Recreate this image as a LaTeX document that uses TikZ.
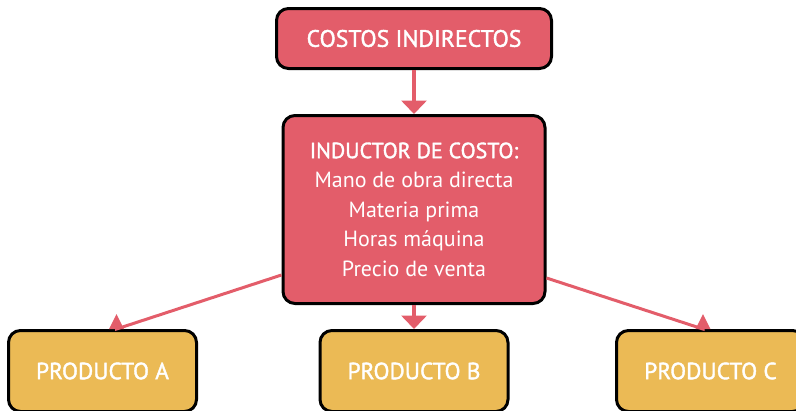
\documentclass[tikz,border=0pt]{standalone}
\usepackage{fontspec}
\setmainfont{PT Sans}[BoldFont=PT Sans, BoldFeatures={FakeBold=1.6}]
\usetikzlibrary{arrows.meta,calc}
\definecolor{costred}{HTML}{E35D6A}
\definecolor{prodyellow}{HTML}{EBBA55}
\tikzstyle{costbox} = [rectangle, rounded corners=0.24cm, draw=black, line width=0.06cm, fill=costred, text=white, align=center, font=\fontsize{12.5}{16.8}\selectfont]
\tikzstyle{prodbox} = [rectangle, rounded corners=0.24cm, minimum width=3.76cm, minimum height=1.62cm, draw=black, line width=0.06cm, fill=prodyellow, text=white, font=\fontsize{13.3}{16}\selectfont\bfseries]

\begin{document}
\begin{tikzpicture}[node distance=3.42cm]
    \tikzset{myptr/.style={draw=costred, line width=0.07cm, -{Triangle[width=0.5cm,length=0.27cm]}}}
    \tikzset{sideptr/.style={draw=costred, line width=0.06cm, -{Triangle[width=0.28cm,length=0.3cm]}}}
    \useasboundingbox (0,0) rectangle (15.92,-8.22);
    \node (costos) [costbox, minimum width=5.5cm, minimum height=1.2cm, font=\fontsize{13.5}{16}\selectfont\bfseries] at (8.28,-0.77) {COSTOS INDIRECTOS};
    \node (inductor) [costbox, minimum width=5.24cm, minimum height=3.76cm, below of=costos] {{\bfseries INDUCTOR DE COSTO:}\\Mano de obra directa\\Materia prima\\Horas máquina\\Precio de venta};

    \node (prod_b) [prodbox, below of=inductor, yshift=0.19cm] {PRODUCTO B};
    \node (prod_a) [prodbox, left of=prod_b, xshift=-2.81cm] {PRODUCTO A};
    \node (prod_c) [prodbox, right of=prod_b, xshift=2.51cm] {PRODUCTO C};

    \coordinate (a_end) at ($(prod_a.north)+(0.28,0)$);
    \coordinate (c_end) at ($(prod_c.north)+(-0.15,0)$);

    \draw[myptr] (costos.south) -- (inductor.north);
    \draw[myptr] (inductor.south) -- (prod_b.north);
    \draw[sideptr] ($(inductor.south west)+(0,0.6)$) -- (a_end) -- ++(0,0.3);
    \draw[sideptr] ($(inductor.south east)+(0,0.54)$) -- (c_end) -- ++(0,0.3);
\end{tikzpicture}
\end{document}
